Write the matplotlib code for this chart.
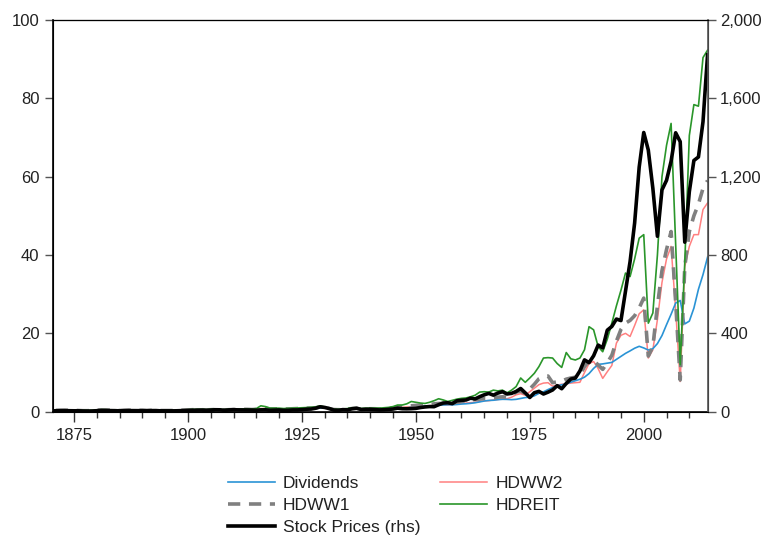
import numpy as np
import matplotlib
matplotlib.use('Agg')
import matplotlib.pyplot as plt
from matplotlib.ticker import MultipleLocator, FuncFormatter

plt.rcParams['font.family'] = ['Liberation Sans', 'DejaVu Sans']

# annual data 1871-2014
years = np.arange(1871, 2015)

# stock prices (rhs)
stockPrices = [
  4.44, 4.86, 5.11, 4.66, 4.54, 4.46, 3.55, 3.25, 3.58, 5.11,
  6.19, 5.92, 5.81, 5.18, 4.24, 5.20, 5.58, 5.31, 5.24, 5.38,
  4.84, 5.51, 5.61, 4.32, 4.25, 4.27, 4.22, 4.88, 6.08, 6.10,
  7.07, 8.12, 8.46, 6.68, 8.43, 9.87, 9.56, 7.09, 9.06, 10.08,
  9.27, 9.12, 9.30, 8.37, 7.48, 9.33, 9.57, 7.21, 7.85, 8.83,
  7.11, 7.30, 8.90, 8.83, 10.58, 12.65, 13.40, 17.53, 24.86, 21.71,
  15.98, 8.30, 7.09, 10.54, 9.26, 14.83, 17.59, 11.31, 12.50, 12.30,
  10.55, 8.93, 10.09, 11.85, 13.49, 18.02, 15.21, 14.83, 15.36, 16.88,
  21.21, 24.19, 26.18, 25.46, 35.60, 44.15, 45.43, 41.12, 55.62, 58.03,
  59.72, 69.07, 65.06, 76.45, 86.12, 93.32, 84.45, 95.04, 102.04, 90.31,
  93.49, 103.30, 118.42, 96.11, 72.56, 96.86, 103.81, 90.25, 99.71, 110.87,
  132.97, 117.28, 144.27, 166.39, 171.61, 208.19, 264.51, 250.48, 285.41, 339.97,
  325.49, 416.08, 435.23, 472.99, 465.25, 614.42, 766.22, 963.36, 1248.77, 1425.59,
  1335.63, 1140.21, 895.84, 1132.52, 1181.41, 1278.73, 1424.16, 1378.76, 865.58, 1123.58,
  1282.62, 1300.58, 1480.40, 1822.36,
]

dividends = [
  0.26, 0.30, 0.33, 0.33, 0.31, 0.29, 0.23, 0.18, 0.19, 0.23,
  0.31, 0.32, 0.32, 0.30, 0.22, 0.19, 0.23, 0.23, 0.22, 0.22,
  0.21, 0.22, 0.23, 0.20, 0.18, 0.18, 0.18, 0.18, 0.21, 0.27,
  0.29, 0.31, 0.34, 0.32, 0.33, 0.38, 0.43, 0.40, 0.41, 0.47,
  0.47, 0.48, 0.50, 0.45, 0.44, 0.56, 0.69, 0.56, 0.54, 0.61,
  0.52, 0.50, 0.56, 0.59, 0.66, 0.73, 0.76, 0.82, 0.93, 0.98,
  0.82, 0.50, 0.44, 0.45, 0.47, 0.72, 0.80, 0.51, 0.62, 0.67,
  0.71, 0.59, 0.61, 0.64, 0.66, 0.71, 0.84, 0.93, 1.14, 1.47,
  1.41, 1.41, 1.45, 1.54, 1.64, 1.74, 1.79, 1.75, 1.83, 1.95,
  2.02, 2.13, 2.28, 2.50, 2.72, 2.87, 2.92, 3.07, 3.16, 3.14,
  3.07, 3.15, 3.38, 3.60, 3.68, 4.05, 4.67, 5.07, 5.65, 6.16,
  6.63, 6.87, 7.09, 7.53, 7.90, 8.28, 8.81, 9.73, 11.05, 12.09,
  12.20, 12.38, 12.58, 13.36, 14.17, 14.89, 15.52, 16.20, 16.69, 16.27,
  15.74, 16.08, 17.39, 19.44, 22.22, 24.88, 27.73, 28.39, 22.41, 23.12,
  26.43, 31.25, 34.99, 39.44,
]

hdww1 = [
  0.35, 0.4, 0.4, 0.35, 0.35, 0.3, 0.25, 0.25, 0.3, 0.4,
  0.45, 0.45, 0.4, 0.35, 0.3, 0.35, 0.4, 0.35, 0.35, 0.35,
  0.3, 0.35, 0.35, 0.3, 0.3, 0.3, 0.3, 0.35, 0.4, 0.45,
  0.5, 0.5, 0.5, 0.45, 0.5, 0.55, 0.55, 0.45, 0.5, 0.55,
  0.55, 0.6, 0.6, 0.55, 0.6, 0.9, 0.9, 0.7, 0.7, 0.75,
  0.7, 0.7, 0.75, 0.8, 0.85, 0.9, 0.95, 1.0, 1.2, 1.0,
  0.8, 0.55, 0.5, 0.6, 0.65, 0.8, 0.85, 0.65, 0.7, 0.75,
  0.75, 0.7, 0.75, 0.85, 0.95, 1.2, 1.3, 1.4, 1.5, 1.6,
  1.7, 1.8, 1.8, 2.0, 2.1, 2.1, 2.0, 2.2, 2.4, 2.6,
  2.8, 3.0, 3.1, 3.2, 3.4, 3.4, 3.5, 3.7, 3.8, 3.7,
  4.2, 5.0, 5.3, 4.6, 5.8, 7.0, 8.4, 9.0, 9.1, 7.4,
  7.6, 7.8, 8.3, 8.6, 8.8, 9.4, 11.5, 13.0, 13.2, 11.9,
  10.8, 12.5, 14.4, 18.0, 21.0, 22.6, 23.3, 24.5, 26.5, 29.0,
  14.2, 16.6, 27.0, 36.0, 41.4, 46.0, 28.0, 8.1, 37.0, 46.0,
  50.0, 53.0, 57.0, 59.0,
]

hdww2 = [
  0.3, 0.35, 0.35, 0.3, 0.3, 0.25, 0.2, 0.2, 0.25, 0.35,
  0.4, 0.4, 0.35, 0.3, 0.25, 0.3, 0.35, 0.3, 0.3, 0.3,
  0.25, 0.3, 0.3, 0.25, 0.25, 0.25, 0.25, 0.3, 0.35, 0.4,
  0.45, 0.45, 0.45, 0.4, 0.45, 0.5, 0.5, 0.4, 0.45, 0.5,
  0.5, 0.55, 0.55, 0.5, 0.55, 0.8, 0.8, 0.6, 0.6, 0.65,
  0.6, 0.6, 0.65, 0.7, 0.75, 0.8, 0.85, 0.9, 1.05, 0.9,
  0.7, 0.45, 0.45, 0.5, 0.55, 0.7, 0.75, 0.55, 0.6, 0.65,
  0.65, 0.6, 0.65, 0.75, 0.85, 1.0, 1.1, 1.2, 1.25, 1.3,
  1.4, 1.5, 1.5, 1.7, 1.8, 1.8, 1.7, 1.9, 2.0, 2.1,
  2.2, 2.3, 2.4, 2.6, 2.8, 2.8, 3.0, 3.1, 3.3, 3.3,
  3.7, 4.3, 4.6, 4.2, 5.1, 6.0, 6.9, 7.3, 7.4, 6.5,
  6.8, 7.0, 7.1, 7.3, 7.4, 7.5, 10.0, 12.3, 12.8, 11.0,
  8.5, 10.2, 11.8, 17.5, 19.5, 20.0, 19.2, 22.0, 25.0, 26.0,
  13.7, 15.8, 23.5, 33.0, 39.0, 42.2, 26.0, 7.7, 37.0, 42.2,
  45.2, 45.2, 51.6, 53.3,
]

hdreit = [
  0.4, 0.45, 0.45, 0.4, 0.4, 0.35, 0.3, 0.3, 0.35, 0.45,
  0.5, 0.5, 0.45, 0.4, 0.35, 0.4, 0.45, 0.4, 0.4, 0.4,
  0.35, 0.4, 0.4, 0.35, 0.35, 0.3, 0.35, 0.4, 0.45, 0.5,
  0.55, 0.6, 0.6, 0.5, 0.6, 0.65, 0.6, 0.5, 0.6, 0.65,
  0.65, 0.7, 0.7, 0.65, 0.8, 1.5, 1.3, 0.9, 0.9, 0.9,
  0.8, 0.85, 0.9, 0.95, 1.0, 1.05, 1.1, 1.2, 1.5, 1.2,
  0.9, 0.6, 0.6, 0.7, 0.8, 1.0, 1.0, 0.8, 0.9, 0.9,
  0.9, 0.9, 1.0, 1.1, 1.3, 1.7, 1.7, 2.0, 2.6, 2.4,
  2.2, 2.1, 2.4, 2.8, 3.3, 3.0, 2.6, 2.9, 3.2, 3.4,
  3.5, 3.8, 4.2, 5.0, 5.1, 5.0, 5.5, 5.3, 5.5, 4.8,
  5.5, 6.4, 8.6, 7.5, 8.6, 9.8, 11.5, 13.7, 13.8, 13.7,
  12.3, 11.3, 15.1, 13.5, 13.2, 13.7, 15.8, 21.7, 20.9, 16.6,
  15.3, 18.5, 22.6, 27.0, 31.0, 35.4, 34.5, 39.0, 44.3, 45.2,
  22.6, 25.2, 40.0, 60.0, 68.0, 73.6, 43.0, 12.0, 38.0, 70.5,
  78.4, 78.0, 90.4, 92.3,
]

textColor = '#222222'

fig = plt.figure(figsize=(7.66, 5.35), dpi=100)
ax = fig.add_axes([0.0692, 0.2305, 0.8551, 0.7321])
ax2 = ax.twinx()

ax.plot(years, hdww2, color='#ff8080', lw=1.1, label='HDWW2')
ax.plot(years, dividends, color='#2a93d5', lw=1.2, label='Dividends')
ax.plot(years, hdww1, color='#808080', lw=2.6, dashes=(3.4, 2.4), label='HDWW1')
ax.plot(years, hdreit, color='#2a962a', lw=1.2, label='HDREIT')
ax2.plot(years, stockPrices, color='black', lw=2.6, label='Stock Prices (rhs)')

ax.set_xlim(1870.4, 2014.1)
ax.set_ylim(0, 100)
ax2.set_ylim(0, 2000)

ax.xaxis.set_minor_locator(MultipleLocator(5))
ax.set_xticks(range(1875, 2001, 25))
ax.yaxis.set_major_locator(MultipleLocator(20))
ax2.yaxis.set_major_locator(MultipleLocator(400))
ax2.yaxis.set_major_formatter(FuncFormatter(lambda v, p: f'{int(v):,}'))

ax.tick_params(axis='x', which='major', direction='out', length=7, width=1, labelsize=12, pad=5)
ax.tick_params(axis='x', which='minor', direction='out', length=4, width=1)
ax.tick_params(axis='y', direction='out', length=5.8, width=1, labelsize=12, pad=4)
ax2.tick_params(axis='y', direction='out', length=5.8, width=1, labelsize=12, pad=3)
ax.tick_params(axis='x', which='both', colors='#333333', labelcolor=textColor)
ax.tick_params(axis='y', colors='#555555', labelcolor=textColor)
ax2.tick_params(axis='y', colors='#555555', labelcolor=textColor)

for sp in ['left', 'bottom']:
  ax.spines[sp].set_color('black')
  ax.spines[sp].set_linewidth(1.2)
ax.spines['top'].set_color('#333333')
ax.spines['top'].set_linewidth(0.9)
ax2.spines['right'].set_color('#555555')
ax2.spines['right'].set_linewidth(1.2)

handles = []
labels = []
for a in [ax, ax2]:
  h, l = a.get_legend_handles_labels()
  handles += h
  labels += l
order = ['Dividends', 'HDWW1', 'Stock Prices (rhs)', 'HDWW2', 'HDREIT']
byLabel = dict(zip(labels, handles))
fig.legend([byLabel[k] for k in order], order, loc='upper left',
  bbox_to_anchor=(0.2977, 0.111), ncol=2, frameon=False, fontsize=12.5,
  handlelength=2.7, handletextpad=0.46, columnspacing=1.15, labelspacing=0.4,
  borderpad=0, borderaxespad=0, labelcolor=textColor)

fig.savefig('out.png', dpi=100)
